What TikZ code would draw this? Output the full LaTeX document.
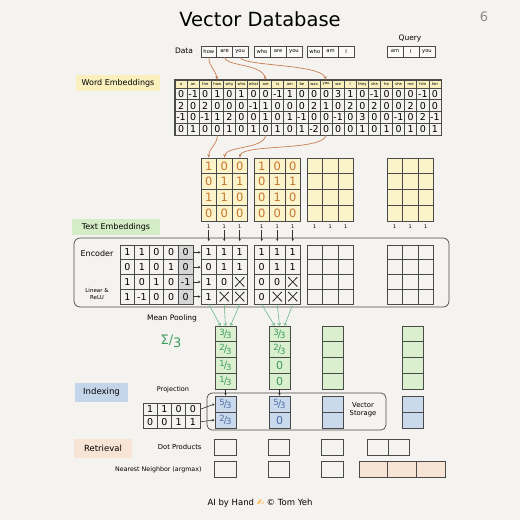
\documentclass[tikz,border=0pt]{standalone}
\usepackage{fontspec}
\setmainfont{DejaVu Sans}
\usetikzlibrary{arrows.meta}
\definecolor{paper}{HTML}{F5F3EF}
\definecolor{bord}{HTML}{4A4A4A}
\definecolor{yel}{HTML}{FBF3C9}
\definecolor{yelh}{HTML}{FAF0BE}
\definecolor{grn}{HTML}{D9EFCD}
\definecolor{grnl}{HTML}{D4EDC6}
\definecolor{blu}{HTML}{CAD9EC}
\definecolor{blul}{HTML}{C4D4E9}
\definecolor{pch}{HTML}{F8E4D4}
\definecolor{otxt}{HTML}{C8742E}
\definecolor{gtxt}{HTML}{3E9B5E}
\definecolor{btxt}{HTML}{4C6FA6}
\definecolor{oarrc}{HTML}{C77E55}
\definecolor{garrc}{HTML}{6DB88A}
\definecolor{gshade}{HTML}{D6D6D6}
\newcommand\fsz[1]{\fontsize{#1}{#1}\selectfont}
\newcommand\fr[2]{{\fsz{8.5}\raisebox{2pt}{#1}}\kern-1pt{\fsz{10}/}\kern-1pt{\fsz{8.5}\raisebox{-1.5pt}{#2}}}
\newcommand\gridm[7]{%
 \foreach \rw [count=\ri from 0] in {#7} {
   \foreach \v [count=\ci from 0] in \rw {
     \node[#6, minimum width=#4pt, minimum height=#5pt] (#1-\ri-\ci) at ({#2+#4*\ci+#4/2},{#3+#5*\ri+#5/2}) {\v};
   }
 }}
\newcommand\emptygrid[8]{%
 \foreach \ri in {0,...,#7} {
   \foreach \ci in {0,...,#8} {
     \node[#6, minimum width=#4pt, minimum height=#5pt] (#1-\ri-\ci) at ({#2+#4*\ci+#4/2},{#3+#5*\ri+#5/2}) {};
   }
 }}
\tikzset{
 cell/.style={draw=bord, line width=0.7pt, inner sep=0pt, font=\fsz{9}},
 hdr/.style={cell, fill=yelh, font=\fsz{3.8}},
 dcell/.style={cell, fill=white!60!paper, font=\fsz{5.2}},
 ecell/.style={cell, font=\fsz{9.5}},
 ymat/.style={cell, fill=yel, text=otxt, font=\fsz{11.5}},
 yemp/.style={cell, fill=yel},
 encm/.style={cell, font=\fsz{9.5}},
 gcell/.style={cell, fill=grn, text=gtxt, font=\fsz{11}},
 bcell/.style={cell, fill=blu, text=btxt, font=\fsz{11}},
 rcell/.style={draw=bord, line width=0.8pt, inner sep=0pt, minimum height=16pt},
 oarr/.style={draw=oarrc, line width=0.7pt, -{Stealth[length=3.5pt,width=3pt]}},
 barr/.style={draw=black!80, line width=0.6pt, -{Stealth[length=2.5pt,width=2.5pt]}},
 garr/.style={draw=garrc, line width=0.6pt, -{Straight Barb[length=2pt,width=3.5pt]}},
 xmark/.style={draw=black!85, line width=0.8pt},
}
\begin{document}
\begin{tikzpicture}[x=1pt,y=-1pt]
\fill[paper] (0,0) rectangle (520,520);
\useasboundingbox (0,0) rectangle (520,520);

% title
\node[font=\fsz{19.5}] (title) at (260,19) {Vector Database};
\node[font=\fsz{13}, text=black!45] (pg) at (484,17) {6};

% data
\node[font=\fsz{7.5}] (datal) at (184,51) {Data};
\node[font=\fsz{7.5}] (queryl) at (410,38) {Query};
\gridm{d1}{201}{46}{15.67}{11}{dcell}{{how,are,you}}
\gridm{d2}{254}{46}{16}{11}{dcell}{{who,are,you}}
\gridm{d3}{307}{46}{15.67}{11}{dcell}{{who,am,I}}
\gridm{q}{387}{46}{16}{11}{dcell}{{am,I,you}}

% word embeddings
\node[fill=yelh, minimum width=84pt, minimum height=16pt, font=\fsz{8}] (lwe) at (118,83) {Word Embeddings};
\gridm{wh}{175}{80}{12.09}{8}{hdr}{{a,an,the,how,why,who,what,are,is,am,be,was,you,we,I,they,she,he,she,me,him,her}}
\gridm{we}{175}{88}{12.09}{11.75}{ecell}{{0,-1,0,1,0,1,0,0,-1,1,0,0,0,3,1,0,-1,0,0,0,-1,0},{2,0,2,0,0,0,-1,1,0,0,0,2,1,0,2,0,2,0,0,2,0,0},{-1,0,-1,1,2,0,0,1,0,1,-1,0,0,-1,0,3,0,0,-1,0,2,-1},{0,1,0,0,1,0,1,0,1,0,1,-2,0,0,0,1,0,1,0,1,0,1}}
\draw[bord, line width=1.2pt] (wh-0-0.north west) rectangle (we-3-21.south east);

% arrows data -> table
\draw[oarr] (d1-0-0.south) .. controls +(0,9) and +(-2,-10) .. (wh-0-3.north);
\draw[oarr] (d1-0-1.south) .. controls +(1.5,9) and +(-4,-16) .. (wh-0-7.north);
\draw[oarr] (d1-0-2.south) .. controls +(2,9) and +(-6,-16) .. (wh-0-12.north);

% token matrices
\gridm{m1}{201}{158}{15.5}{15.75}{ymat}{{1,0,0},{0,1,1},{1,1,0},{0,0,0}}
\gridm{m2}{254}{158}{15.5}{15.75}{ymat}{{1,0,0},{0,1,1},{0,1,0},{0,0,0}}
\emptygrid{m3}{307}{158}{15.5}{15.75}{yemp}{3}{2}
\emptygrid{m4}{387}{158}{15.5}{15.75}{yemp}{3}{2}

% arrows table -> matrix
\draw[oarr] (we-3-3.south) .. controls +(0,10) and +(0,-10) .. (m1-0-0.north);
\draw[oarr] (we-3-7.south) .. controls +(-2,14) and +(2,-12) .. (m1-0-1.north);
\draw[oarr] (we-3-12.south) .. controls +(-4,16) and +(2,-14) .. (m1-0-2.north);

% ones
\foreach \m/\x in {o1/201,o2/254,o3/307,o4/387}{
  \foreach \ci in {0,1,2}{
    \node[font=\fsz{5}, inner sep=1pt] (\m-\ci) at ({\x+15.5*\ci+7.75},226.5) {1};
  }
}

% text embeddings
\node[fill=grnl, minimum width=88pt, minimum height=16pt, font=\fsz{8}] (lte) at (116,227) {Text Embeddings};
\node[draw=bord, line width=0.7pt, rounded corners=6pt, minimum width=375pt, minimum height=69pt] (encp) at (261.5,272.5) {};
\node[font=\fsz{8}] (encl) at (97,254) {Encoder};
\node[font=\fsz{5.5}, align=center] (relul) at (97,294) {Linear \&\\[1.5pt]ReLU};

\fill[gshade] (178.4,245) rectangle (193,304);
\gridm{w}{120}{245}{14.6}{14.75}{encm}{{1,1,0,0,0},{0,1,0,1,0},{1,0,1,0,-1},{1,-1,0,0,0}}
\gridm{en1}{201}{245}{15.5}{14.75}{encm}{{1,1,1},{0,1,1},{1,0,{}},{1,{},{}}}
\gridm{en2}{254}{245}{15.5}{14.75}{encm}{{1,1,1},{0,1,1},{0,0,{}},{0,{},{}}}
\emptygrid{en3}{307}{245}{15.5}{14.75}{cell}{3}{2}
\emptygrid{en4}{387}{245}{15.5}{14.75}{cell}{3}{2}
\foreach \n in {en1-2-2,en1-3-1,en1-3-2,en2-2-2,en2-3-1,en2-3-2}{
  \draw[xmark] ([shift={(3.5,3)}]\n.north west) -- ([shift={(-3.5,-3)}]\n.south east)
               ([shift={(-3.5,3)}]\n.north east) -- ([shift={(3.5,-3)}]\n.south west);
}
\foreach \ri in {0,...,3}{
  \draw[barr] (w-\ri-4.east) -- (en1-\ri-0.west);
}
\foreach \ci in {0,1,2}{
  \draw[barr, shorten >=3.5pt] (o1-\ci.south) -- (en1-0-\ci.north);
  \draw[barr, shorten >=3.5pt] (o2-\ci.south) -- (en2-0-\ci.north);
}

% mean pooling
\node[font=\fsz{7.5}] (mpl) at (172,318) {Mean Pooling};
\node[font=\fsz{13}, text=gtxt] (sig) at (171,341) {Σ/\raisebox{-3pt}{3}};
\gridm{g1}{215}{326}{21}{15.75}{gcell}{{\fr{3}{3}},{\fr{2}{3}},{\fr{1}{3}},{\fr{1}{3}}}
\gridm{g2}{269}{326}{21}{15.75}{gcell}{{\fr{3}{3}},{\fr{2}{3}},{0},{0}}
\emptygrid{g3}{322}{326}{21}{15.75}{gcell}{3}{0}
\emptygrid{g4}{402}{326}{21}{15.75}{gcell}{3}{0}
\foreach \ci/\dx in {0/-5,1/0,2/5}{
  \draw[garr] (en1-3-\ci.south) -- ([xshift=\dx pt]g1-0-0.north);
  \draw[garr] (en2-3-\ci.south) -- ([xshift=\dx pt]g2-0-0.north);
}

% indexing
\node[fill=blul, minimum width=53pt, minimum height=19pt, font=\fsz{8.5}] (lidx) at (101.5,392.5) {Indexing};
\node[font=\fsz{6.5}] (projl) at (173,390) {Projection};
\node[draw=bord, line width=0.7pt, rounded corners=5pt, minimum width=179pt, minimum height=37pt] (vsp) at (296.5,411.5) {};
\node[font=\fsz{6.8}, align=center] (vsl) at (363,410) {Vector\\[1pt]Storage};
\gridm{p}{143}{403}{14.25}{12.5}{encm}{{1,1,0,0},{0,0,1,1}}
\gridm{b1}{215}{396}{21}{16}{bcell}{{\fr{5}{3}},{\fr{2}{3}}}
\gridm{b2}{269}{396}{21}{16}{bcell}{{\fr{5}{3}},{0}}
\emptygrid{b3}{322}{396}{21}{16}{bcell}{1}{0}
\emptygrid{b4}{402}{396}{21}{16}{bcell}{1}{0}
\foreach \ri in {0,1}{
  \draw[barr] (p-\ri-3.east) -- (b1-\ri-0.west);
}
\draw[barr] (g1-3-0.south) -- (b1-0-0.north);
\draw[barr] (g2-3-0.south) -- (b2-0-0.north);

% retrieval
\node[fill=pch, minimum width=58pt, minimum height=19pt, font=\fsz{8.5}] (lret) at (103,448.5) {Retrieval};
\node[font=\fsz{6.8}, anchor=east] (dpl) at (205,446.5) {Dot Products};
\node[font=\fsz{6.3}, anchor=east] (nnl) at (205,469.5) {Nearest Neighbor (argmax)};
\node[rcell, minimum width=22pt] (dp1) at (225,447) {};
\node[rcell, minimum width=21pt] (dp2) at (278.5,447) {};
\node[rcell, minimum width=22pt] (dp3) at (332,447) {};
\node[rcell, minimum width=21pt] (dp4a) at (377.5,447) {};
\node[rcell, minimum width=21pt] (dp4b) at (398.5,447) {};
\node[rcell, minimum width=22pt] (nn1) at (225,469) {};
\node[rcell, minimum width=21pt] (nn2) at (278.5,469) {};
\node[rcell, minimum width=22pt] (nn3) at (332,469) {};
\node[rcell, fill=pch, minimum width=28.7pt] (nn4a) at (373.3,469) {};
\node[rcell, fill=pch, minimum width=28.7pt] (nn4b) at (402,469) {};
\node[rcell, fill=pch, minimum width=28.7pt] (nn4c) at (430.7,469) {};

% footer
\node[font=\fsz{8.5}] (foot) at (260,503) {AI by Hand {\color{orange!80!yellow}✍} © Tom Yeh};
\end{tikzpicture}
\end{document}
